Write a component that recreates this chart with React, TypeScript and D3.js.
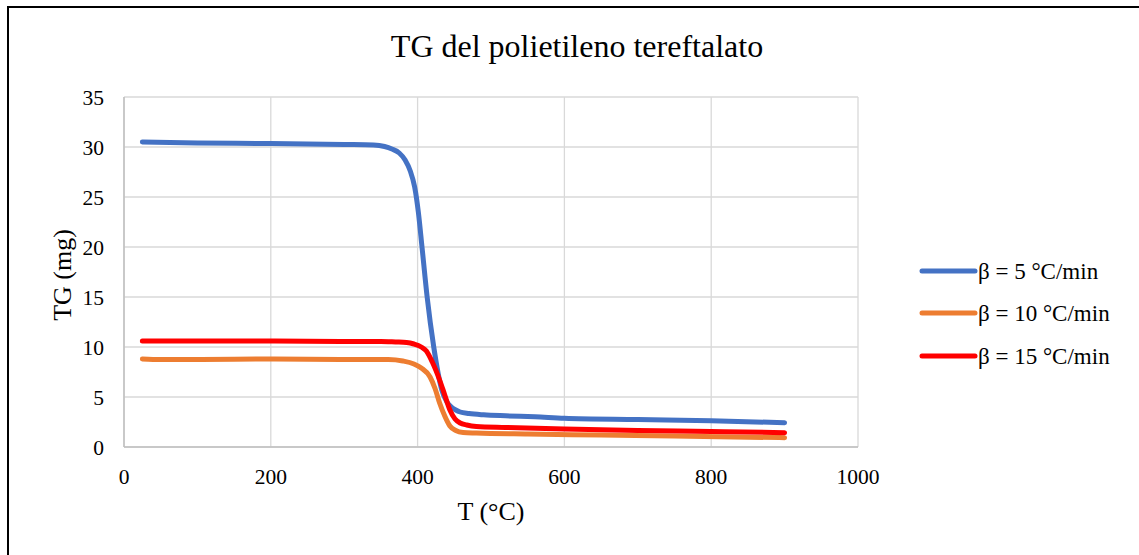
import React from "react";
import * as d3 from "d3";

const title = "TG del polietileno tereftalato";
const xTicks = [0, 200, 400, 600, 800, 1000];
const yTicks = [0, 5, 10, 15, 20, 25, 30, 35];

const seriesNames = ["β = 5 °C/min", "β = 10 °C/min", "β = 15 °C/min"];
const seriesColors = ["#4472C4", "#ED7D31", "#FF0000"];

const tBlue = [25, 100, 200, 300, 340, 355, 365, 375, 383, 390, 396, 401, 406, 413, 422, 433, 440, 446, 452, 458, 470, 490, 520, 560, 600, 700, 800, 900];
const vBlue = [30.5, 30.4, 30.35, 30.25, 30.2, 30.05, 29.8, 29.4, 28.7, 27.6, 26.0, 23.5, 20.0, 15.0, 10.0, 5.7, 4.5, 4.0, 3.7, 3.5, 3.35, 3.22, 3.12, 3.02, 2.88, 2.75, 2.62, 2.43];

const tOrange = [25, 50, 100, 200, 300, 360, 380, 395, 405, 417, 424, 430, 437, 444, 452, 462, 480, 550, 650, 750, 900];
const vOrange = [8.8, 8.75, 8.75, 8.8, 8.75, 8.75, 8.6, 8.3, 7.9, 7.0, 5.8, 4.4, 3.1, 2.1, 1.65, 1.45, 1.4, 1.3, 1.2, 1.1, 0.93];

const tRed = [25, 100, 200, 300, 350, 370, 385, 395, 405, 412, 420, 430, 437, 444, 451, 458, 467, 480, 520, 600, 700, 800, 900];
const vRed = [10.6, 10.6, 10.6, 10.55, 10.55, 10.5, 10.45, 10.3, 10.0, 9.6, 8.5, 6.7, 5.2, 3.7, 2.8, 2.4, 2.2, 2.05, 1.95, 1.8, 1.65, 1.55, 1.43];

const seriesT = [tBlue, tOrange, tRed];
const seriesV = [vBlue, vOrange, vRed];

const W = 1139;
const H = 555;
const plot = { left: 124, right: 858, top: 97, bottom: 447 };
const font = "'Liberation Serif', 'Times New Roman', serif";

export default function App() {
  const x = d3.scaleLinear().domain([0, 1000]).range([plot.left, plot.right]);
  const y = d3.scaleLinear().domain([0, 35]).range([plot.bottom, plot.top]);
  const line = d3
    .line<[number, number]>()
    .x((d) => x(d[0]))
    .y((d) => y(d[1]))
    .curve(d3.curveMonotoneX);

  const legendRows = [271, 313, 356];

  return (
    <svg
      width={W}
      height={H}
      style={{ position: "absolute", left: 0, top: 0, background: "#fff" }}
      fontFamily={font}
    >
      <rect x={0} y={0} width={W} height={H} fill="#fff" />
      <rect x={8} y={7} width={W + 20} height={H + 20} fill="none" stroke="#000" strokeWidth={2} />
      <text x={577} y={57} textAnchor="middle" fontSize={32} fill="#000">
        {title}
      </text>
      {yTicks.map((t) => (
        <line key={"gy" + t} x1={plot.left} x2={plot.right} y1={y(t)} y2={y(t)} stroke="#d9d9d9" strokeWidth={1.3} />
      ))}
      {xTicks.map((t) => (
        <line key={"gx" + t} x1={x(t)} x2={x(t)} y1={plot.top} y2={plot.bottom} stroke="#d9d9d9" strokeWidth={1.3} />
      ))}
      <line x1={plot.left} x2={plot.left} y1={plot.top} y2={plot.bottom} stroke="#bfbfbf" strokeWidth={1.5} />
      <line x1={plot.left} x2={plot.right} y1={plot.bottom} y2={plot.bottom} stroke="#bfbfbf" strokeWidth={1.5} />
      {yTicks.map((t) => (
        <text key={"ty" + t} x={104} y={y(t) + 8} textAnchor="end" fontSize={21.5} fill="#000">
          {t}
        </text>
      ))}
      {xTicks.map((t) => (
        <text key={"tx" + t} x={x(t)} y={484} textAnchor="middle" fontSize={21.5} fill="#000">
          {t}
        </text>
      ))}
      <text x={491} y={520} textAnchor="middle" fontSize={26} fill="#000">
        T (°C)
      </text>
      <text
        transform={`translate(${71},${275}) rotate(-90)`}
        textAnchor="middle"
        fontSize={26}
        fill="#000"
      >
        TG (mg)
      </text>
      {seriesT.map((ts, i) => {
        const pts: [number, number][] = ts.map((t, j) => [t, seriesV[i][j]]);
        return (
          <path
            key={"s" + i}
            d={line(pts) || ""}
            fill="none"
            stroke={seriesColors[i]}
            strokeWidth={5}
            strokeLinecap="round"
            strokeLinejoin="round"
          />
        );
      })}
      {seriesNames.map((n, i) => (
        <g key={"lg" + i}>
          <line x1={922} x2={975} y1={legendRows[i]} y2={legendRows[i]} stroke={seriesColors[i]} strokeWidth={5} strokeLinecap="round" />
          <text x={978} y={legendRows[i] + 8} fontSize={23} fill="#000">
            {n}
          </text>
        </g>
      ))}
    </svg>
  );
}
